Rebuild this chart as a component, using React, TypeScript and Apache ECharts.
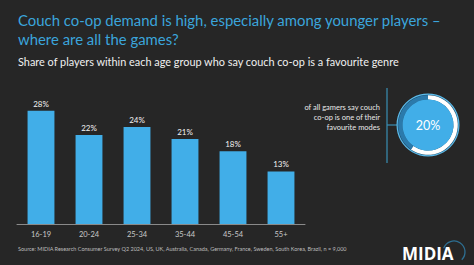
import React, { useEffect, useRef } from "react";
import * as echarts from "echarts";

const categories = ["16-19", "20-24", "25-34", "35-44", "45-54", "55+"];
const shares = [28, 22, 24, 21, 18, 13];
const overallShare = 20;
const calloutLines = ["of all gamers say couch", "co-op is one of their", "favourite modes"];

const BG = "#262626";
const BLUE = "#41aee8";
const TITLE_BLUE = "#3ba5dc";
const FONT = "Lato, 'Open Sans', sans-serif";

export default function App() {
  const ref = useRef<HTMLDivElement>(null);

  useEffect(() => {
    if (!ref.current) return;
    const chart = echarts.init(ref.current, undefined, { renderer: "svg" });

    const cx = 428;
    const cy = 125;
    const deg = (d: number) => (d * Math.PI) / 180;

    chart.setOption({
      animation: false,
      backgroundColor: BG,
      textStyle: { fontFamily: FONT },
      grid: { left: 17, right: 169, top: 102.6, bottom: 41, containLabel: false },
      xAxis: {
        type: "category",
        data: categories,
        axisLine: { lineStyle: { color: "#8a8a8a", width: 1 } },
        axisTick: { show: false },
        axisLabel: { color: "#c8c8c8", fontSize: 7.5, margin: 6, fontFamily: FONT },
      },
      yAxis: {
        type: "value",
        min: 0,
        max: 30,
        show: false,
        splitLine: { show: false },
      },
      series: [
        {
          type: "bar",
          data: shares,
          barWidth: "56%",
          itemStyle: { color: BLUE },
          label: {
            show: true,
            position: "top",
            distance: 3,
            color: "#f2f2f2",
            fontSize: 8,
            fontFamily: FONT,
            formatter: (p: any) => `${p.value}%`,
          },
        },
      ],
      graphic: [
        {
          type: "text",
          left: 18,
          top: 10,
          style: {
            text: "Couch co-op demand is high, especially among younger players –\nwhere are all the games?",
            fill: TITLE_BLUE,
            fontSize: 14.9,
            lineHeight: 19.5,
            fontFamily: FONT,
          },
        },
        {
          type: "text",
          left: 18,
          top: 56,
          style: {
            text: "Share of players within each age group who say couch co-op is a favourite genre",
            fill: "#f0f0f0",
            fontSize: 10.9,
            fontFamily: FONT,
          },
        },
        // callout text with bracket line
        ...calloutLines.map((t, i) => ({
          type: "text",
          x: 380,
          y: 107 + i * 10,
          style: {
            text: t,
            fill: "#e8e8e8",
            fontSize: 7.5,
            fontFamily: FONT,
            align: "right",
            verticalAlign: "middle",
          },
        })),
        {
          type: "line",
          shape: { x1: 387, y1: 88, x2: 387, y2: 163 },
          style: { stroke: "#3a8fb5", lineWidth: 1.2 },
        },
        {
          type: "line",
          shape: { x1: 387, y1: 125, x2: 397, y2: 125 },
          style: { stroke: "#3a8fb5", lineWidth: 1.2 },
        },
        // donut badge
        {
          type: "circle",
          shape: { cx, cy, r: 31.5 },
          style: { fill: "#5cbbea" },
        },
        {
          type: "circle",
          shape: { cx, cy, r: 30.3 },
          style: { fill: "#1f4f6e" },
        },
        {
          type: "sector",
          shape: { cx, cy, r: 29.8, r0: 25.5, startAngle: deg(-90), endAngle: deg(125), clockwise: true },
          style: { fill: "#ffffff" },
        },
        {
          type: "sector",
          shape: { cx, cy, r: 29.8, r0: 25.5, startAngle: deg(125), endAngle: deg(270), clockwise: true },
          style: { fill: "#2b7aab" },
        },
        {
          type: "circle",
          shape: { cx, cy, r: 25.5 },
          style: { fill: BLUE },
        },
        {
          type: "text",
          x: cx,
          y: cy,
          style: {
            text: `${overallShare}%`,
            fill: "#ffffff",
            fontSize: 12.5,
            fontFamily: FONT,
            align: "center",
            verticalAlign: "middle",
          },
        },
        // source note
        {
          type: "text",
          x: 18,
          y: 249,
          style: {
            text: "Source: MIDIA Research Consumer Survey Q2 2024, US, UK, Australia, Canada, Germany, France, Sweden, South Korea, Brazil, n = 9,000",
            fill: "#bdbdbd",
            fontSize: 5.5,
            fontFamily: FONT,
            verticalAlign: "middle",
          },
        },
        // logo
        {
          type: "text",
          x: 402,
          y: 253,
          style: {
            text: "MIDIA",
            fill: "#ffffff",
            fontSize: 17,
            fontWeight: "bold",
            fontFamily: "'Open Sans', sans-serif",
            verticalAlign: "middle",
          },
        },
        {
          type: "arc",
          shape: { cx: 454, cy: 252, r: 11, startAngle: deg(-160), endAngle: deg(45), clockwise: true },
          style: { stroke: "#2e6f92", lineWidth: 1.3, fill: "none" },
        },
      ],
    });

    return () => chart.dispose();
  }, []);

  return (
    <div
      ref={ref}
      style={{ position: "fixed", left: 0, top: 0, width: 474, height: 265 }}
    />
  );
}
